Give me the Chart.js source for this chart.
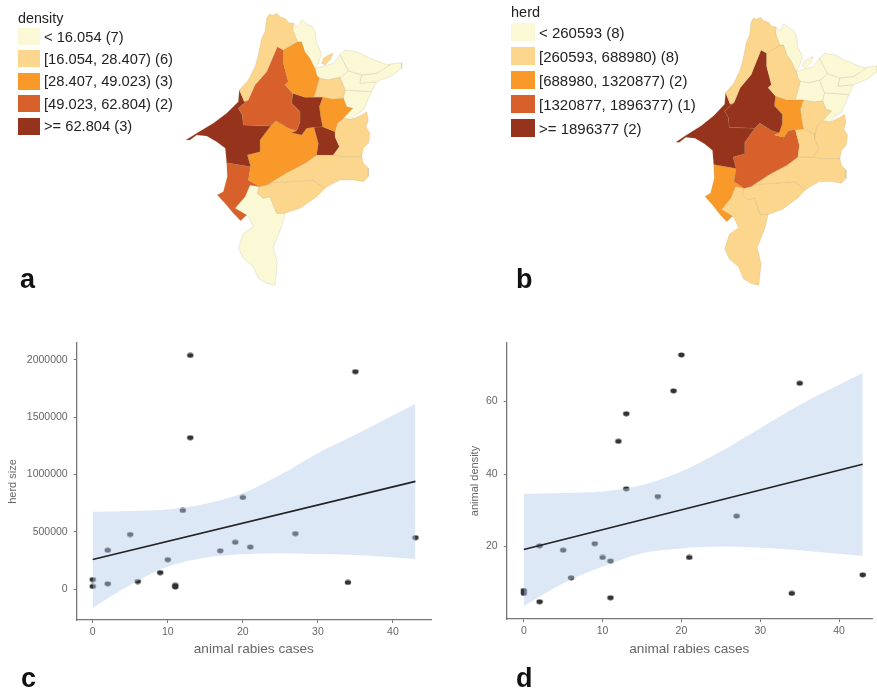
<!DOCTYPE html>
<html><head><meta charset="utf-8">
<script src="https://cdn.jsdelivr.net/npm/chart.js@4/dist/chart.umd.min.js"></script>
<style>
html,body{margin:0;padding:0;background:#fff;width:877px;height:692px;overflow:hidden}
#page{position:absolute;left:0;top:0;width:877px;height:692px;filter:blur(0.4px)}
canvas{position:absolute}
.t{position:absolute;font-family:"Liberation Sans",Arial,sans-serif;color:#222;white-space:pre;line-height:1}
.s{position:absolute}
.l{position:absolute;font-family:"Liberation Sans",Arial,sans-serif;font-weight:bold;font-size:27px;color:#111;line-height:1}
</style></head><body><div id="page">
<canvas id="mapA" width="440" height="300" style="left:0;top:0"></canvas>
<canvas id="mapB" width="411" height="296" style="left:502px;top:4px"></canvas>
<canvas id="scC" width="440" height="322" style="left:0;top:335px"></canvas>
<canvas id="scD" width="437" height="322" style="left:440px;top:335px"></canvas>
</div>
<script>
// ---------- map data (vertices in map units) ----------
const strip=[[808,42],[818,46],[830,40],[842,52],[855,55],[866,68],[880,70],[878,90],[892,125],[850,150],[832,140],[800,215],[765,255],[745,300],[733,305],[718,270],[745,240],[765,200],[775,165],[785,115],[795,95],[800,55]];
const north=[[880,70],[893,82],[905,60],[925,75],[935,78],[945,95],[950,130],[965,160],[955,190],[945,205],[930,175],[915,155],[905,125],[892,125],[878,90]];
const island=[[965,190],[970,175],[985,165],[1000,160],[992,178],[975,195]];
const centreNorth=[[892,125],[905,125],[915,155],[930,175],[945,205],[950,225],[958,235],[942,290],[915,292],[878,280],[855,255],[865,245],[850,190],[850,150]];
const bigWest=[[832,140],[850,150],[850,190],[865,245],[855,255],[878,280],[875,310],[900,335],[900,365],[890,392],[865,385],[828,362],[812,378],[730,375],[727,345],[715,325],[745,300],[765,255],[800,215]];
const farWest=[[718,270],[733,305],[745,300],[715,325],[727,345],[730,375],[812,378],[780,420],[780,455],[742,465],[752,500],[680,488],[676,445],[650,425],[620,408],[590,405],[570,420],[558,420],[590,400],[640,370],[680,340],[715,305]];
const midDark=[[878,280],[915,292],[968,292],[958,320],[962,350],[968,380],[942,382],[920,385],[905,405],[875,398],[890,392],[900,365],[900,335],[875,310]];
const midOrange=[[968,292],[1000,298],[1030,295],[1040,320],[1058,325],[1030,355],[1012,370],[1005,395],[968,380],[962,350],[958,320]];
const midLight=[[958,235],[985,240],[1020,232],[1035,270],[1030,295],[1000,298],[968,292],[942,290]];
const neWest=[[945,205],[965,200],[1000,190],[1020,165],[1030,185],[1045,212],[1025,230],[985,240],[958,235],[950,225]];
const neNorth=[[1020,165],[1035,150],[1070,155],[1100,170],[1150,190],[1170,195],[1130,220],[1085,225],[1045,212],[1030,185]];
const neTip=[[1170,192],[1205,188],[1205,205],[1175,228],[1130,245],[1080,250],[1085,225],[1130,220]];
const neMid=[[1045,212],[1085,225],[1080,250],[1130,245],[1115,275],[1035,270],[1020,232],[1025,230]];
const neSouth=[[1035,270],[1115,275],[1090,330],[1065,345],[1055,358],[1030,355],[1058,325],[1040,320],[1030,295]];
const east=[[1012,370],[1030,355],[1055,358],[1085,345],[1100,335],[1105,360],[1098,380],[1110,400],[1105,430],[1090,445],[1085,470],[1030,470],[1000,465],[1018,440],[1005,410],[1005,395]];
const lobe=[[968,380],[1005,395],[1005,410],[1018,440],[1000,465],[950,465],[955,430],[942,382]];
const central=[[828,362],[865,385],[890,392],[875,398],[905,405],[920,385],[942,382],[955,430],[950,465],[915,490],[860,518],[800,555],[778,560],[745,540],[752,500],[742,465],[780,455],[780,420],[812,378]];
const southWest=[[680,488],[752,500],[745,540],[778,560],[750,555],[735,590],[705,625],[740,645],[722,662],[700,640],[675,610],[652,585],[670,575],[682,530]];
const southA=[[800,555],[860,518],[915,490],[950,465],[1000,465],[1030,470],[1085,470],[1090,490],[1105,505],[1105,530],[1090,545],[1060,540],[1020,540],[990,555],[975,565],[940,540],[875,545],[820,548]];
const southB=[[778,560],[800,555],[820,548],[875,545],[940,540],[975,565],[950,590],[900,625],[855,640],[830,640],[810,590],[790,595],[772,580]];
const farSouth=[[750,555],[778,560],[772,580],[790,595],[810,590],[830,640],[855,640],[845,680],[820,740],[832,790],[825,855],[800,850],[775,835],[760,800],[730,775],[715,745],[730,700],[760,680],[745,650],[705,625],[735,590]];
const regions=[strip,north,island,centreNorth,bigWest,farWest,midDark,midOrange,midLight,neWest,neNorth,neTip,neMid,neSouth,east,lobe,central,southWest,southA,southB,farSouth];
const densityClass=[1,0,1,2,3,4,4,2,1,0,0,0,0,0,1,4,2,3,1,1,0];
const herdClass   =[1,0,0,1,4,4,2,1,0,0,0,0,0,0,1,1,3,2,1,1,1];
const classColors=['#FBF8D6','#FDD68E','#F8992A','#D8602A','#95331C'];

const densityLegendTitle='density';
const densityLegend=['< 16.054 (7)','[16.054, 28.407) (6)','[28.407, 49.023) (3)','[49.023, 62.804) (2)','>= 62.804 (3)'];
const herdLegendTitle='herd';
const herdLegend=['< 260593 (8)','[260593, 688980) (8)','[688980, 1320877) (2)','[1320877, 1896377) (1)','>= 1896377 (2)'];

// ---------- scatter data ----------
const rabiesCases=[0,0,2,2,5,6,9,10,11,11,12,13,13,17,19,20,21,27,34,35,43];
const herdSize=[85000,25000,340000,48000,477000,68000,145000,258000,35000,20000,687000,2037000,1320000,335000,410000,800000,368000,485000,60000,1895000,450000];
const densCases=[0,0,2,2,5,6,9,10,11,11,12,13,13,17,19,20,21,27,34,35,43];
const animalDensity=[7.9,7.1,20.2,4.8,19,11.4,20.8,17,16,5.9,49,56.6,35.9,33.8,62.9,72.8,17,28.4,7.1,65,12.2];

const bandX=[0,5,10,15,20,25,30,35,43];
const herdUpper=[675000,683000,695000,745000,837000,997000,1186000,1346000,1616000];
const herdLower=[-160000,38000,198000,276000,305000,314000,308000,300000,265000];
const densUpper=[34.5,34.8,35.2,37,40.7,46.2,52.6,59,67.8];
const densLower=[3.6,9.9,14.5,18.2,19.5,20,19.7,19,17.4];
const lineX=[0,43];
const herdLine=[260000,940000];
const densLine=[19.2,42.7];

const casesTicks=[0,10,20,30,40];
const herdTicks=[0,500000,1000000,1500000,2000000];
const densTicks=[20,40,60];

const labelA='a',labelB='b',labelC='c',labelD='d';
const xTitle='animal rabies cases',herdTitle='herd size',densTitle='animal density';

// ---------- drawing ----------
function toXY(xs,ys){return xs.map((x,i)=>({x:x,y:ys[i]}));}
function drawMap(id,cls){
  const datasets=regions.map((poly,i)=>({
    data:poly.concat([poly[0]]).map(p=>({x:p[0],y:p[1]})),
    showLine:true,fill:'shape',backgroundColor:classColors[cls[i]],
    borderColor:'rgba(165,140,85,0.25)',borderWidth:0.7,pointRadius:0,tension:0
  }));
  new Chart(document.getElementById(id),{type:'scatter',data:{datasets},options:{
    responsive:false,animation:false,
    layout:{padding:0},
    plugins:{legend:{display:false},tooltip:{enabled:false}},
    scales:{x:{display:false,min:0,max:1320},y:{display:false,min:0,max:900,reverse:true}}
  }});
}
drawMap('mapA',densityClass);
drawMap('mapB',herdClass);

const dot=document.createElement('canvas');dot.width=8;dot.height=6;
{const c=dot.getContext('2d');c.fillStyle='#333';c.beginPath();c.ellipse(4,3,3.2,2.4,0,0,Math.PI*2);c.fill();}
const tickCol='#777',axisCol='#777',textCol='#666';
function drawScatter(o){
  new Chart(document.getElementById(o.id),{type:'scatter',data:{datasets:[
    {data:toXY(lineX,o.line),showLine:true,borderColor:'#222',borderWidth:1.6,pointRadius:0,fill:false,order:0},
    {data:toXY(bandX,o.upper),showLine:true,borderWidth:0,borderColor:'transparent',pointRadius:0,cubicInterpolationMode:'monotone',fill:'+1',backgroundColor:'rgba(177,204,233,0.45)',order:1},
    {data:toXY(bandX,o.lower),showLine:true,borderWidth:0,borderColor:'transparent',pointRadius:0,cubicInterpolationMode:'monotone',fill:false,order:2},
    {data:toXY(o.xs,o.ys),pointStyle:dot,order:3}
  ]},options:{
    responsive:false,animation:false,
    layout:{padding:{left:0,top:o.top,right:o.right,bottom:0}},
    plugins:{legend:{display:false},tooltip:{enabled:false}},
    scales:{
      x:{type:'linear',min:o.xmin,max:o.xmax,
        afterBuildTicks:s=>{s.ticks=casesTicks.map(v=>({value:v}));},
        afterFit:s=>{s.height=o.xh;s.paddingLeft=0;s.paddingRight=0;},
        ticks:{color:textCol,font:{family:'Liberation Sans',size:o.xtick},padding:3,maxRotation:0,autoSkip:false,callback:v=>String(v)},
        grid:{drawOnChartArea:false,tickLength:3,color:tickCol},
        border:{color:axisCol,width:1.3},
        title:{display:true,text:xTitle,color:textCol,font:{family:'Liberation Sans',size:13.6},padding:{top:2,bottom:0}}},
      y:{type:'linear',min:o.ymin,max:o.ymax,
        afterBuildTicks:s=>{s.ticks=o.yticks.map(v=>({value:v}));},
        afterFit:s=>{s.width=o.yw;s.paddingTop=0;s.paddingBottom=0;},
        ticks:{color:textCol,font:{family:'Liberation Sans',size:o.ytick},padding:6,autoSkip:false,callback:v=>String(v)},
        grid:{drawOnChartArea:false,tickLength:3,color:tickCol},
        border:{color:axisCol,width:1.3},
        title:{display:true,text:o.ytitle,color:textCol,font:{family:'Liberation Sans',size:11},padding:{top:o.ytp,bottom:0}}}
    }
  }});
}
drawScatter({id:'scC',xs:rabiesCases,ys:herdSize,line:herdLine,upper:herdUpper,lower:herdLower,
  xmin:-2.13,xmax:45.07,ymin:-267000,ymax:2145000,yticks:herdTicks,ytitle:herdTitle,
  top:8,right:9,xh:37,yw:76.7,xtick:10.5,ytick:10.5,ytp:6});
drawScatter({id:'scD',xs:densCases,ys:animalDensity,line:densLine,upper:densUpper,lower:densLower,
  xmin:-2.17,xmax:44.18,ymin:0.05,ymax:76.1,yticks:densTicks,ytitle:densTitle,
  top:8,right:0,xh:38,yw:66.7,xtick:10.5,ytick:10.5,ytp:28});

const page=document.getElementById('page');
function addText(txt,x,y,size,cls){
  const d=document.createElement('div');d.className=cls||'t';d.textContent=txt;
  d.style.left=x+'px';d.style.top=y+'px';if(size)d.style.fontSize=size+'px';
  page.appendChild(d);
}
function addLegend(title,items,x,tx,titleY,ys,h,titleSize,size){
  addText(title,x,titleY,titleSize);
  items.forEach((it,i)=>{
    const s=document.createElement('div');s.className='s';
    s.style.cssText='left:'+x+'px;top:'+ys[i]+'px;width:'+(tx-x-4)+'px;height:'+h+'px;background:'+classColors[i]+';';
    page.appendChild(s);
    addText(it,tx,ys[i]+h/2-size/2+0.5,size);
  });
}
addLegend(densityLegendTitle,densityLegend,18,44,10.5,[28,50,72.5,95,117.5],17,14.3,14.7);
addLegend(herdLegendTitle,herdLegend,511,539,5,[22.5,47,71,95,119],18,14.5,15);
addText(labelA,20,266,null,'l');
addText(labelB,516,266,null,'l');
addText(labelC,21,665,null,'l');
addText(labelD,516,665,null,'l');
</script>
</body></html>
